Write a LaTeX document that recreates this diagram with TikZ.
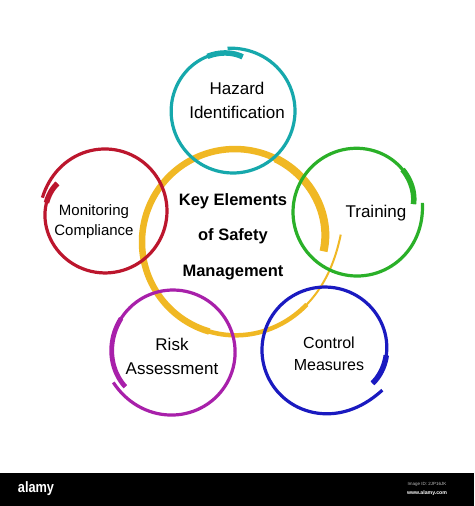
\documentclass[tikz,border=0pt]{standalone}
\usepackage{fontspec}
\setmainfont{Liberation Sans}
\newfontfamily\logofont[FakeStretch=0.85]{Liberation Sans}
\usepackage{tikz}
\definecolor{tealc}{RGB}{22,168,172}
\definecolor{redc}{RGB}{188,22,45}
\definecolor{greenc}{RGB}{42,176,40}
\definecolor{purplec}{RGB}{168,32,170}
\definecolor{bluec}{RGB}{26,26,192}
\definecolor{yellowc}{RGB}{240,184,36}
\definecolor{idgray}{RGB}{190,190,190}

\begin{document}
\begin{tikzpicture}[x = 1pt, y = -1pt,
  ring/.style = {line width = 3.2pt, smooth, variable = \s, samples = 100},
  brush/.style = {line width = 5.5pt, smooth, variable = \s, samples = 30},
  lbl/.style = {inner sep = 0pt, align = center, font = \fontsize{17}{24}\selectfont}]
\fill [white] (0,0) rectangle (474,506);
\useasboundingbox (0,0) rectangle (474,506);

\draw [yellowc, line width = 2pt, smooth, variable = \s, domain = 0:60, samples = 30] plot ({235+(93+13*exp(-\s/25)-4*exp((\s-370)/20))*cos(\s-4)}, {242+(93+13*exp(-\s/25)-4*exp((\s-370)/20))*sin(\s-4)});
\draw [yellowc, line width = 4.5pt, smooth, variable = \s, domain = 45:120, samples = 30] plot ({235+(93+13*exp(-\s/25)-4*exp((\s-370)/20))*cos(\s-4)}, {242+(93+13*exp(-\s/25)-4*exp((\s-370)/20))*sin(\s-4)});
\draw [yellowc, line width = 6.5pt, smooth, variable = \s, domain = 110:310, samples = 60] plot ({235+(93+13*exp(-\s/25)-4*exp((\s-370)/20))*cos(\s-4)}, {242+(93+13*exp(-\s/25)-4*exp((\s-370)/20))*sin(\s-4)});
\draw [yellowc, line width = 8pt, smooth, variable = \s, domain = 300:370, samples = 30] plot ({235+(93+13*exp(-\s/25)-4*exp((\s-370)/20))*cos(\s-4)}, {242+(93+13*exp(-\s/25)-4*exp((\s-370)/20))*sin(\s-4)});

\draw [ring, tealc, domain = 0:375] plot ({233+(62+exp(-\s/20)-7*exp((\s-375)/25))*cos(265+\s)}, {111+(62+exp(-\s/20)-7*exp((\s-375)/25))*sin(265+\s)});
\draw [brush, tealc, domain = 340:375] plot ({233+(62+exp(-\s/20)-7*exp((\s-375)/25))*cos(265+\s)}, {111+(62+exp(-\s/20)-7*exp((\s-375)/25))*sin(265+\s)});

\draw [ring, redc, domain = 0:378] plot ({105+(62+2*exp(-\s/20)-7*exp((\s-378)/25))*cos(192+\s)}, {211+(62+2*exp(-\s/20)-7*exp((\s-378)/25))*sin(192+\s)});
\draw [brush, redc, domain = 356:378] plot ({105+(62+2*exp(-\s/20)-7*exp((\s-378)/25))*cos(192+\s)}, {211+(62+2*exp(-\s/20)-7*exp((\s-378)/25))*sin(192+\s)});

\draw [ring, greenc, domain = 0:360] plot ({357+(64+2*exp(-\s/20)-7*exp((\s-360)/25))*cos(\s-8)}, {212+(64+2*exp(-\s/20)-7*exp((\s-360)/25))*sin(\s-8)});
\draw [brush, greenc, domain = 325:360] plot ({357+(64+2*exp(-\s/20)-7*exp((\s-360)/25))*cos(\s-8)}, {212+(64+2*exp(-\s/20)-7*exp((\s-360)/25))*sin(\s-8)});

\draw [ring, purplec, domain = 0:369] plot ({173+(62+5*exp(-\s/40)-3*exp((\s-369)/25))*cos(153-\s)}, {352+(62+5*exp(-\s/40)-3*exp((\s-369)/25))*sin(153-\s)});
\draw [brush, purplec, line width = 4.8pt, domain = 300:369] plot ({173+(62+5*exp(-\s/40)-3*exp((\s-369)/25))*cos(153-\s)}, {352+(62+5*exp(-\s/40)-3*exp((\s-369)/25))*sin(153-\s)});

\draw [ring, bluec, domain = 0:360] plot ({325+(63+7*exp(-\s/25)-5*exp((\s-360)/25))*cos(35+\s)}, {350+(63+7*exp(-\s/25)-5*exp((\s-360)/25))*sin(35+\s)});
\draw [brush, bluec, domain = 330:360] plot ({325+(63+7*exp(-\s/25)-5*exp((\s-360)/25))*cos(35+\s)}, {350+(63+7*exp(-\s/25)-5*exp((\s-360)/25))*sin(35+\s)});

\node [lbl] (hazard) at (237,100) {Hazard\\Identification};
\node [lbl, font = \fontsize{15}{20}\selectfont] (monitor) at (94,221.5) {Monitoring\\Compliance};
\node [lbl] (training) at (376,213.5) {Training};
\node [lbl] (risk) at (172,356.3) {Risk\\Assessment};
\node [lbl, font = \fontsize{16}{22}\selectfont] (control) at (329,354) {Control\\Measures};
\node [lbl, font = \bfseries\fontsize{16.5}{35.5}\selectfont] (keyel) at (233,236.3) {Key Elements\\of Safety\\Management};

\fill [black] (0,473) rectangle (474,506);
\node [inner sep = 0pt, white, font = \logofont\bfseries\fontsize{15}{15}\selectfont] (alamy) at (36,488.8) {alamy};
\node [inner sep = 0pt, idgray, font = \fontsize{4.5}{5}\selectfont] (imgid) at (427,484.3) {Image ID: 2JP16JK};
\node [inner sep = 0pt, white, font = \bfseries\fontsize{5.2}{6}\selectfont] (site) at (427,493.3) {www.alamy.com};
\end{tikzpicture}
\end{document}
